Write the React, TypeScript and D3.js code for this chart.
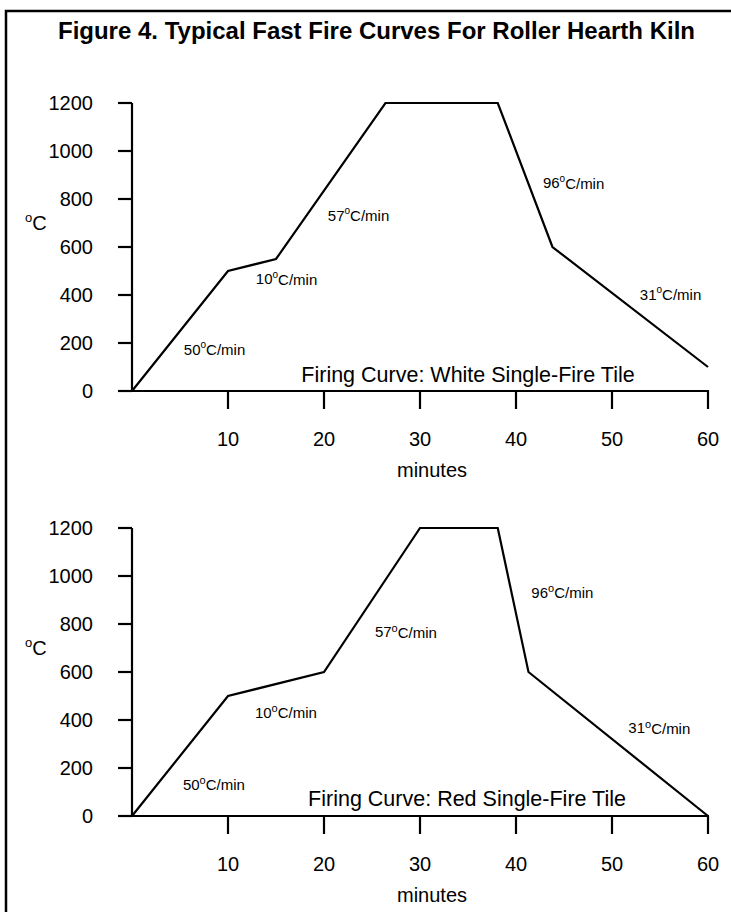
import React from "react";
import * as d3 from "d3";

const TITLE = "Figure 4. Typical Fast Fire Curves For Roller Hearth Kiln";
const xTicks = [10, 20, 30, 40, 50, 60];
const yTicks = [0, 200, 400, 600, 800, 1000, 1200];

const whiteTimes = [0, 10, 15, 26.4, 38.1, 43.8, 60];
const whiteTemps = [0, 500, 550, 1200, 1200, 600, 100];
const redTimes = [0, 10, 20, 30, 38.1, 41.3, 60];
const redTemps = [0, 500, 600, 1200, 1200, 600, 0];

const rateLabels = ["50", "10", "57", "96", "31"];
const whiteLabelT = [5.4, 12.9, 20.4, 42.8, 52.9];
const whiteLabelV = [175, 467, 733, 867, 404];
const redLabelT = [5.3, 12.8, 25.3, 41.6, 51.7];
const redLabelV = [133, 433, 767, 933, 367];

const FONT = "'Liberation Sans', Arial, Helvetica, sans-serif";

type PanelProps = {
  top: number;
  times: number[];
  temps: number[];
  labT: number[];
  labV: number[];
  caption: string;
  capT: number;
  capV: number;
  superO: boolean;
};

function Panel({ top, times, temps, labT, labV, caption, capT, capV, superO }: PanelProps) {
  const x = d3.scaleLinear().domain([0, 60]).range([132, 708]);
  const y = d3.scaleLinear().domain([0, 1200]).range([top + 288, top]);
  const pts = times.map((t, i) => [t, temps[i]] as [number, number]);
  const line = d3
    .line<[number, number]>()
    .x((d) => x(d[0]))
    .y((d) => y(d[1]));
  const y0 = y(0);
  return (
    <g fontFamily={FONT} fill="#000">
      <line x1={x(0)} x2={x(0)} y1={y(1200)} y2={y0} stroke="#000" strokeWidth={2.2} />
      {yTicks.map((v) => (
        <g key={v}>
          <line x1={x(0) - 14} x2={x(0)} y1={y(v)} y2={y(v)} stroke="#000" strokeWidth={2.2} />
          <text x={93} y={y(v)} textAnchor="end" dominantBaseline="central" fontSize={20}>
            {v}
          </text>
        </g>
      ))}
      <text x={25} y={y(700)} dominantBaseline="central" fontSize={20}>
        <tspan fontSize={13} dy={-6}>o</tspan>
        <tspan dy={6}>C</tspan>
      </text>
      <line x1={x(0) - 12} x2={x(60) + 1} y1={y0} y2={y0} stroke="#000" strokeWidth={2.2} />
      {xTicks.map((t) => (
        <g key={t}>
          <line x1={x(t)} x2={x(t)} y1={y0} y2={y0 + 18} stroke="#000" strokeWidth={2.2} />
          <text x={x(t)} y={y0 + 48} textAnchor="middle" dominantBaseline="central" fontSize={20}>
            {t}
          </text>
        </g>
      ))}
      <text x={432} y={y0 + 79} textAnchor="middle" dominantBaseline="central" fontSize={20}>
        minutes
      </text>
      <path d={line(pts) || ""} fill="none" stroke="#000" strokeWidth={2.2} strokeLinejoin="miter" />
      {rateLabels.map((r, i) => (
        <text key={r} x={x(labT[i])} y={y(labV[i])} dominantBaseline="central" fontSize={15}>
          {r}
          {superO ? (
            <>
              <tspan fontSize={10} dy={-5}>o</tspan>
              <tspan dy={5}>C/min</tspan>
            </>
          ) : (
            <>
              <tspan fontSize={11} dy={-4}>o</tspan>
              <tspan dy={4}>C/min</tspan>
            </>
          )}
        </text>
      ))}
      <text x={x(capT)} y={y(capV)} textAnchor="middle" dominantBaseline="central" fontSize={21.5}>
        {caption}
      </text>
    </g>
  );
}

export default function App() {
  return (
    <div style={{ position: "absolute", left: 0, top: 0 }}>
      <svg width={731} height={912} style={{ display: "block", background: "#fff" }}>
        <rect x={0} y={0} width={731} height={912} fill="#fff" />
        <rect x={6} y={11} width={760} height={940} fill="none" stroke="#000" strokeWidth={2.5} />
        <text
          x={376.5}
          y={30.5}
          textAnchor="middle"
          dominantBaseline="central"
          fontFamily={FONT}
          fontWeight="bold"
          fontSize={24}
        >
          {TITLE}
        </text>
        <Panel
          top={103}
          times={whiteTimes}
          temps={whiteTemps}
          labT={whiteLabelT}
          labV={whiteLabelV}
          caption="Firing Curve: White Single-Fire Tile"
          capT={35}
          capV={67}
          superO={true}
        />
        <Panel
          top={528}
          times={redTimes}
          temps={redTemps}
          labT={redLabelT}
          labV={redLabelV}
          caption="Firing Curve: Red Single-Fire Tile"
          capT={34.9}
          capV={71}
          superO={false}
        />
      </svg>
    </div>
  );
}
